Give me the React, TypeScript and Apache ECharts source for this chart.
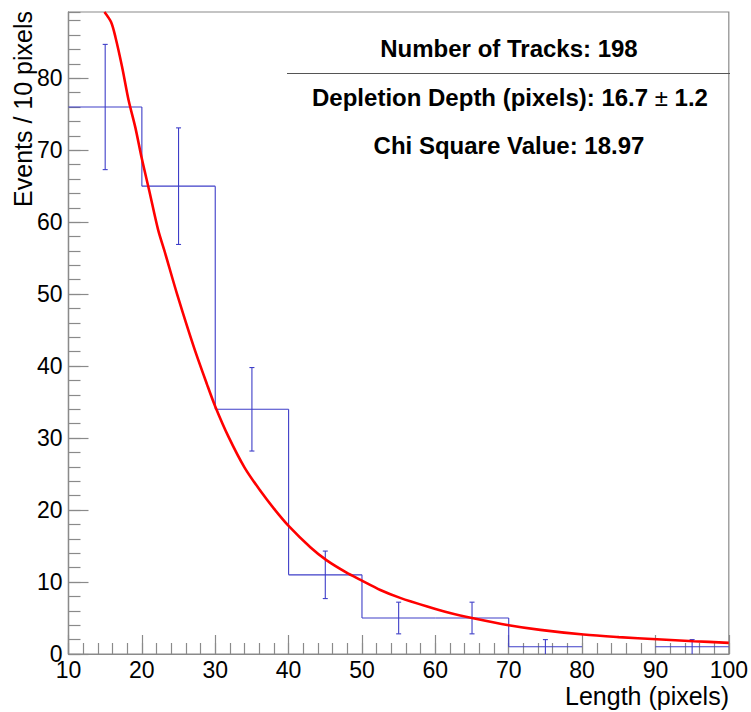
import React, { useEffect, useRef } from "react";
import * as echarts from "echarts";

// ---- data ----
const binLow = [10, 20, 30, 40, 50, 60, 70, 80, 90];
const binHigh = [20, 30, 40, 50, 60, 70, 80, 90, 100];
const counts = [76, 65, 34, 11, 5, 5, 1, 0, 1];
const errors = [8.7, 8.1, 5.8, 3.3, 2.2, 2.2, 1.0, 0, 1.0];

const fitX = [14.9, 15.8, 16.4, 17.3, 18.2, 19.1, 20, 21, 22.2, 23.2, 24.8, 27.1, 28.9, 30, 31.8, 34, 36.2, 38, 40, 43, 45.2, 47.9, 49.8, 52.5, 55.2, 58.9, 62, 65, 70, 74.3, 80.2, 85, 90.2, 95.2, 100];
const fitY = [89.2, 87.8, 85.7, 81.6, 76.9, 73.2, 68.8, 64.4, 59.0, 55.6, 50.0, 42.6, 37.4, 34.4, 30.2, 25.9, 22.6, 20.2, 17.8, 14.8, 13.0, 11.3, 10.3, 8.9, 7.8, 6.6, 5.7, 5.0, 4.0, 3.35, 2.7, 2.35, 2.05, 1.78, 1.55];

const xTitle = "Length (pixels)";
const yTitle = "Events / 10 pixels";
const statLines = ["Number of Tracks: 198", "Depletion Depth (pixels): 16.7 {pm|±} 1.2", "Chi Square Value: 18.97"];

const FONT = "'Liberation Sans', Arial, Helvetica, sans-serif";
const BLUE = "#3e3ec8";
const AXIS = "#8a8a8a";

export default function App() {
  const ref = useRef<HTMLDivElement>(null);
  useEffect(() => {
    if (!ref.current) return;
    const chart = echarts.init(ref.current, undefined, { renderer: "svg" });
    const histData = binLow.map((lo, i) => [lo, binHigh[i], counts[i], errors[i], i > 0 ? counts[i - 1] : 0]);
    const axisBase = {
      type: "value" as const,
      splitLine: { show: false },
      axisLine: { show: true, lineStyle: { color: AXIS, width: 1.2 } },
    };
    const option: any = {
      animation: false,
      backgroundColor: "#fff",
      grid: { left: 68.5, right: 21, top: 12, bottom: 58, show: true, borderColor: AXIS, borderWidth: 1.2, backgroundColor: "transparent" },
      xAxis: [
        {
          ...axisBase, position: "bottom", min: 10, max: 100, interval: 10,
          axisTick: { show: true, inside: true, length: 19, lineStyle: { color: AXIS, width: 1.2 } },
          axisLabel: { fontSize: 23, color: "#000", fontFamily: FONT, margin: 4 },
        },
        {
          ...axisBase, position: "bottom", min: 10, max: 100, interval: 2,
          axisTick: { show: true, inside: true, length: 11, lineStyle: { color: AXIS, width: 1.2 } },
          axisLabel: { show: false },
        },
      ],
      yAxis: [
        {
          ...axisBase, position: "left", min: 0, max: 89.2, interval: 10,
          axisTick: { show: true, inside: true, length: 20, lineStyle: { color: AXIS, width: 1.2 } },
          axisLabel: { fontSize: 23, color: "#000", fontFamily: FONT, margin: 6, showMaxLabel: false,
            formatter: (v: number) => (v % 10 === 0 ? String(v) : "") },
        },
        {
          ...axisBase, position: "left", min: 0, max: 89.2, interval: 2,
          axisTick: { show: true, inside: true, length: 12, lineStyle: { color: AXIS, width: 1.2 } },
          axisLabel: { show: false },
        },
      ],
      series: [
        {
          type: "custom",
          xAxisIndex: 0,
          yAxisIndex: 0,
          clip: true,
          encode: { x: [0, 1], y: [2] },
          data: histData,
          renderItem: (params: any, api: any) => {
            const lo = api.value(0), hi = api.value(1), v = api.value(2), err = api.value(3), prev = api.value(4);
            const style = { stroke: BLUE, lineWidth: 1.1, fill: null };
            const children: any[] = [];
            const ln = (p: number[], q: number[]) => ({ type: "line", shape: { x1: p[0], y1: p[1], x2: q[0], y2: q[1] }, style });
            if (v > 0) {
              children.push(ln(api.coord([lo, v]), api.coord([hi, v])));
              const c = (lo + hi) / 2;
              const top = api.coord([c, v + err]);
              const bot = api.coord([c, Math.max(v - err, 0)]);
              children.push(ln(top, bot));
              children.push(ln([top[0] - 2.5, top[1]], [top[0] + 2.5, top[1]]));
              if (v - err > 0) children.push(ln([bot[0] - 2.5, bot[1]], [bot[0] + 2.5, bot[1]]));
            }
            if (params.dataIndex > 0 && prev > 0 && v > 0 && prev !== v) {
              children.push(ln(api.coord([lo, prev]), api.coord([lo, v])));
            }
            return { type: "group", children };
          },
          z: 3,
        },
        {
          type: "line",
          xAxisIndex: 0,
          yAxisIndex: 0,
          data: fitX.map((x, i) => [x, fitY[i]]),
          showSymbol: false,
          smooth: 0.3,
          clip: true,
          lineStyle: { color: "#ff0000", width: 2.6 },
          z: 4,
        },
      ],
      graphic: [
        {
          type: "text", x: 23, y: 11, rotation: Math.PI / 2,
          style: { text: yTitle, font: `25px ${FONT}`, fill: "#000", align: "right", verticalAlign: "middle" },
        },
        {
          type: "text", x: 729, y: 696,
          style: { text: xTitle, font: `25px ${FONT}`, fill: "#000", align: "right", verticalAlign: "middle" },
        },
        {
          type: "line", shape: { x1: 287, y1: 73.5, x2: 730, y2: 73.5 },
          style: { stroke: "#555", lineWidth: 1.2 },
        },
        {
          type: "text", x: 509, y: 48,
          style: { text: statLines[0], font: `bold 24px ${FONT}`, fill: "#000", align: "center", verticalAlign: "middle" },
        },
        {
          type: "text", x: 510, y: 97,
          style: {
            text: statLines[1], font: `bold 24px ${FONT}`, fill: "#000", align: "center", verticalAlign: "middle",
            rich: { pm: { fontWeight: "normal", fontSize: 24, fontFamily: FONT, fill: "#000" } },
          },
        },
        {
          type: "text", x: 509, y: 145,
          style: { text: statLines[2], font: `bold 24px ${FONT}`, fill: "#000", align: "center", verticalAlign: "middle" },
        },
      ],
    };
    chart.setOption(option);
    return () => chart.dispose();
  }, []);
  return <div ref={ref} style={{ position: "fixed", left: 0, top: 0, width: 751, height: 712, background: "#fff" }} />;
}
